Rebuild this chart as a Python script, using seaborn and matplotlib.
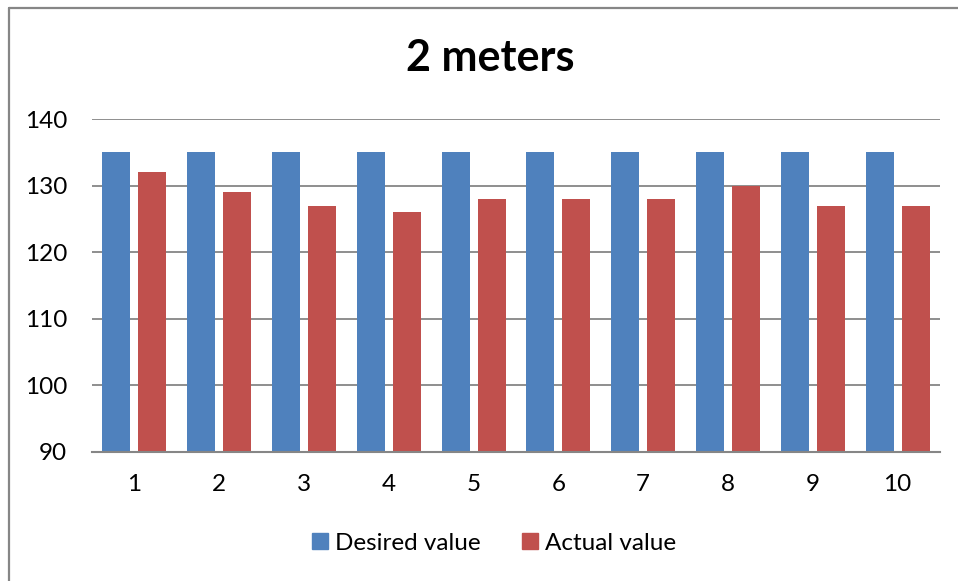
import pandas as pd
import matplotlib
matplotlib.use("Agg")
from matplotlib import pyplot as plt
from matplotlib.lines import Line2D
import seaborn as sns

trials = [1, 2, 3, 4, 5, 6, 7, 8, 9, 10]
desired = [135, 135, 135, 135, 135, 135, 135, 135, 135, 135]
actual = [132, 129, 127, 126, 128, 128, 128, 130, 127, 127]
series_names = ["Desired value", "Actual value"]
colors = ["#4F81BD", "#C0504D"]

d = pd.DataFrame({
    "trial": trials * 2,
    "value": desired + actual,
    "series": [series_names[0]] * len(trials) + [series_names[1]] * len(trials),
})

sns.set_style("white")
plt.rcParams["font.family"] = ["Lato", "DejaVu Sans"]
plt.rcParams["text.color"] = "black"

fig = plt.figure(figsize=(9.58, 5.81), dpi=100)
ax = fig.add_axes([92 / 958, 1 - 452 / 581, (940 - 92) / 958, (452 - 119) / 581])

sns.barplot(x="trial", y="value", hue="series", data=d, palette=colors,
            width=0.85, gap=0.22, linewidth=0, saturation=1, ax=ax)

ax.set_ylim(90, 140)
ax.set_yticks([90, 100, 110, 120, 130, 140])
ax.set_xlim(-0.5, len(trials) - 0.5)
ax.set_xlabel("")
ax.set_ylabel("")
ax.yaxis.grid(True, color="#868686", linewidth=1.3)
ax.set_axisbelow(True)
for s in ["left", "right", "top"]:
    ax.spines[s].set_visible(False)
ax.spines["bottom"].set_color("#868686")
ax.spines["bottom"].set_linewidth(1.5)
ax.tick_params(axis="both", length=0, labelsize=17.5, colors="black")
ax.tick_params(axis="y", pad=18)
ax.tick_params(axis="x", pad=16)

ax.get_legend().remove()
handles = [plt.Rectangle((0, 0), 1, 1, color=c) for c in colors]
fig.legend(handles, series_names, loc="center", bbox_to_anchor=(494 / 958, 1 - 543 / 581),
           ncol=2, frameon=False, fontsize=17.5, handlelength=0.65, handleheight=0.65,
           handletextpad=0.3, columnspacing=1.7, labelcolor="black")

fig.text(490 / 958, 1 - 58 / 581, "2 meters", ha="center", va="center",
         fontsize=31, fontweight="bold", color="black")

# chart frame (only top and left edges visible in the crop)
fig.add_artist(Line2D([9 / 958, 9 / 958], [0, 1 - 7.5 / 581], transform=fig.transFigure,
                      color="#868686", linewidth=1.6))
fig.add_artist(Line2D([9 / 958, 1], [1 - 7.5 / 581, 1 - 7.5 / 581], transform=fig.transFigure,
                      color="#868686", linewidth=1.6))

fig.savefig("out.png", dpi=100)
